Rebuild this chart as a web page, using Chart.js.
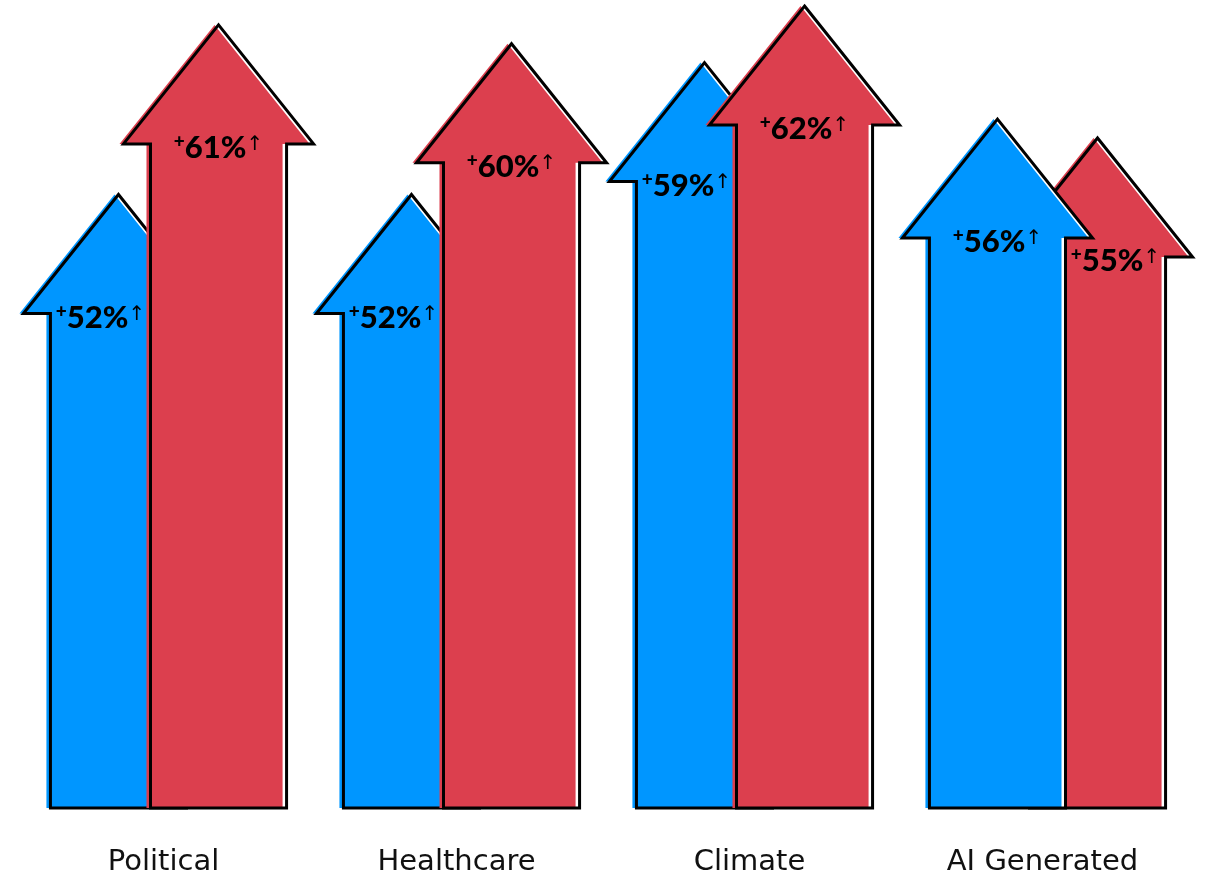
<!DOCTYPE html>
<html>
<head>
<meta charset="utf-8">
<script src="https://cdn.jsdelivr.net/npm/chart.js@4"></script>
<style>
  html, body { margin: 0; padding: 0; background: #fff; }
  #wrap { width: 1210px; height: 875px; position: relative; }
</style>
</head>
<body>
<div id="wrap"><canvas id="chart"></canvas></div>
<script>
const categories = ['Political', 'Healthcare', 'Climate', 'AI Generated'];
const blueValues = [52, 52, 59, 56];
const redValues = [61, 60, 62, 55];

const BLUE = '#0096FF';
const RED = '#DC3F4E';

// draws each bar as an arrow: white backing, colour fill shifted left, black outline
function arrowPath(ctx, x, top, base, sh, hh, H) {
  ctx.beginPath();
  ctx.moveTo(x, top);
  ctx.lineTo(x + hh, top + H);
  ctx.lineTo(x + sh, top + H);
  ctx.lineTo(x + sh, base);
  ctx.lineTo(x - sh, base);
  ctx.lineTo(x - sh, top + H);
  ctx.lineTo(x - hh, top + H);
  ctx.closePath();
}

function drawLabel(ctx, cx, y, value) {
  const parts = [
    { t: '+', f: '900 19px Lato, "DejaVu Sans", sans-serif', dy: -10 },
    { t: String(value) + '%', f: '900 31px Lato, "DejaVu Sans", sans-serif', dy: 0 },
    { t: '↑', f: '20px "DejaVu Sans", sans-serif', dy: -8 }
  ];
  let total = 0;
  parts.forEach(p => { ctx.font = p.f; p.w = ctx.measureText(p.t).width; total += p.w; });
  let x = cx - total / 2;
  ctx.fillStyle = '#000';
  ctx.textBaseline = 'alphabetic';
  ctx.textAlign = 'left';
  parts.forEach(p => { ctx.font = p.f; ctx.fillText(p.t, x, y + p.dy); x += p.w; });
}

const arrowPlugin = {
  id: 'arrows',
  afterDatasetsDraw(chart) {
    const ctx = chart.ctx;
    const metaB = chart.getDatasetMeta(0);
    const metaR = chart.getDatasetMeta(1);
    const bottom = chart.chartArea.bottom;
    ctx.save();
    for (let i = 0; i < categories.length; i++) {
      const items = [
        { bar: metaB.data[i], color: BLUE, v: blueValues[i] },
        { bar: metaR.data[i], color: RED, v: redValues[i] }
      ];
      const front = items[0].v > items[1].v ? 0 : 1;
      const back = 1 - front;
      [back, front].forEach(k => {
        const it = items[k];
        const b = it.bar;
        const w = b.width;
        const sh = w * 0.68, hh = w * 0.95, H = 119;
        arrowPath(ctx, b.x, b.y, bottom, sh, hh, H);
        ctx.fillStyle = '#fff';
        ctx.fill();
        arrowPath(ctx, b.x - 4, b.y, bottom, sh, hh, H);
        ctx.fillStyle = it.color;
        ctx.fill();
        arrowPath(ctx, b.x, b.y, bottom, sh, hh, H);
        ctx.lineWidth = 3;
        ctx.lineJoin = 'miter';
        ctx.strokeStyle = '#000';
        ctx.stroke();

        // label sits in the visible part of the shaft
        let cx = b.x;
        if (k === back) {
          const fb = items[front].bar;
          if (b.x < fb.x) cx = ((b.x - sh) + (fb.x - sh)) / 2;
          else cx = ((fb.x + sh) + (b.x + sh)) / 2;
        }
        drawLabel(ctx, cx, b.y + H + 14, it.v);
      });
    }
    ctx.restore();
  }
};

new Chart(document.getElementById('chart'), {
  type: 'bar',
  data: {
    labels: categories,
    datasets: [
      { data: blueValues, backgroundColor: 'rgba(0,0,0,0)', categoryPercentage: 0.683, barPercentage: 1.0 },
      { data: redValues, backgroundColor: 'rgba(0,0,0,0)', categoryPercentage: 0.683, barPercentage: 1.0 }
    ]
  },
  plugins: [arrowPlugin],
  options: {
    responsive: true,
    maintainAspectRatio: false,
    animation: false,
    layout: { padding: { left: 22, right: 16, top: 0, bottom: 0 } },
    plugins: { legend: { display: false }, tooltip: { enabled: false } },
    scales: {
      x: {
        grid: { display: false, drawTicks: false },
        border: { display: false },
        afterFit: (scale) => { scale.height = 67; },
        ticks: {
          padding: 37,
          labelOffset: -5,
          color: '#111',
          font: { family: '"DejaVu Sans", sans-serif', size: 29 }
        }
      },
      y: {
        display: false,
        min: 19.45,
        max: 62.32
      }
    }
  }
});
</script>
</body>
</html>
